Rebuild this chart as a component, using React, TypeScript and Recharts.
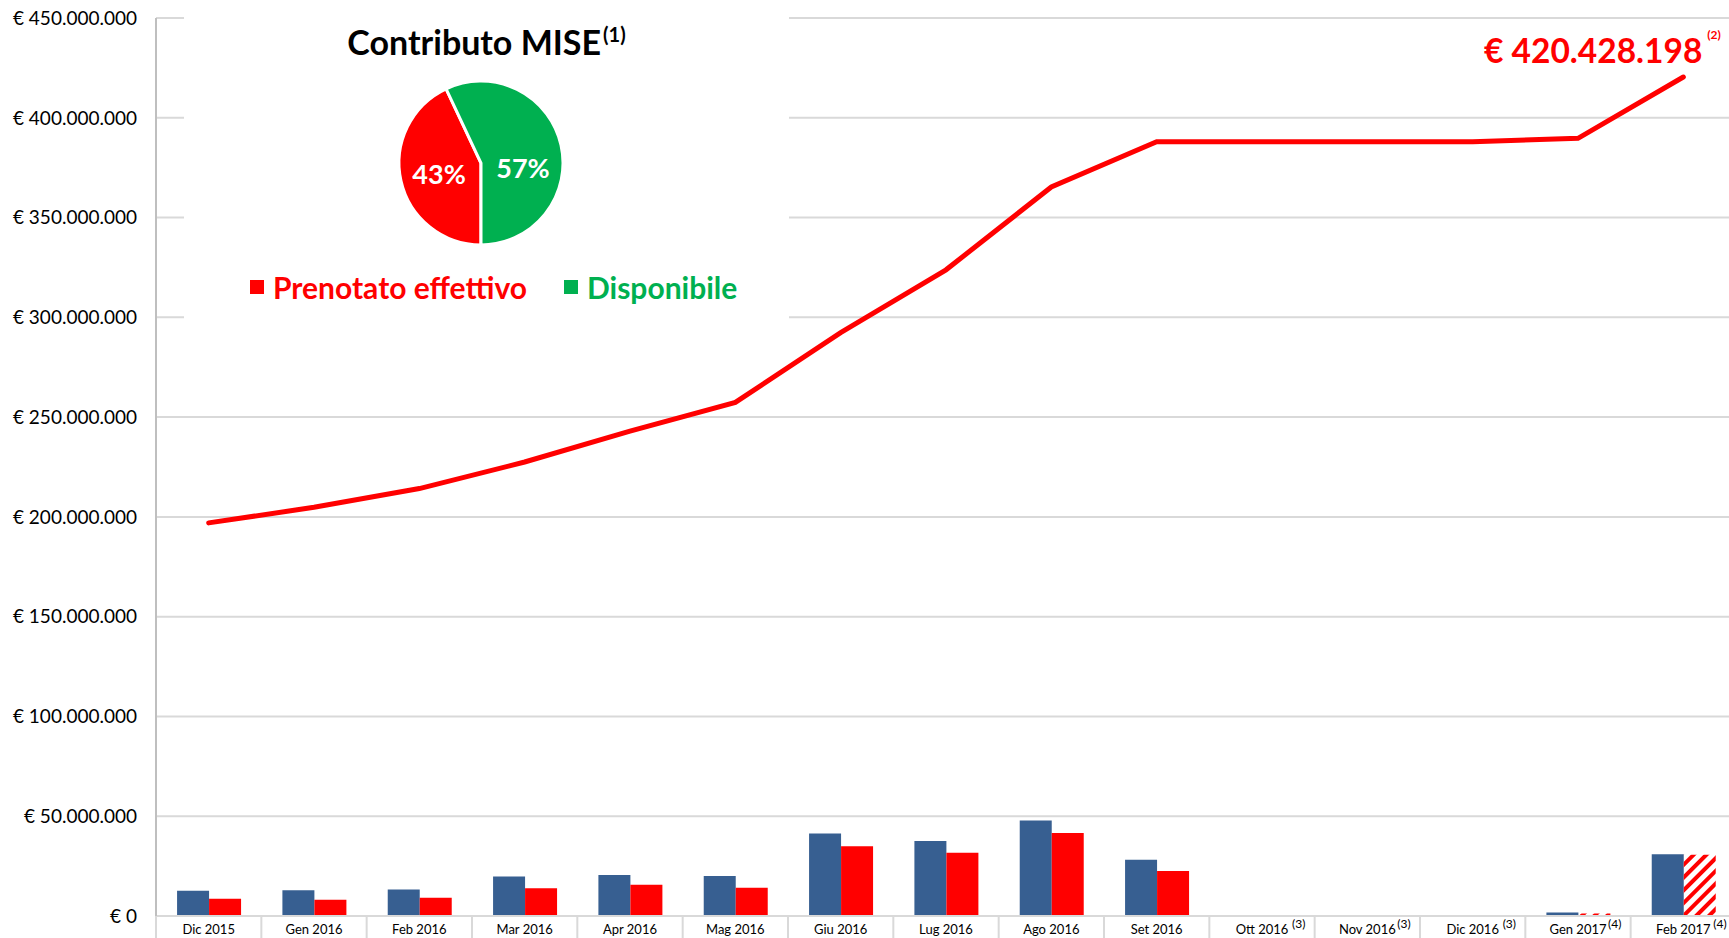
import { ComposedChart, Bar, Line, XAxis, YAxis, CartesianGrid, Cell, LabelList, PieChart, Pie } from 'recharts'

const categorie = ['Dic 2015', 'Gen 2016', 'Feb 2016', 'Mar 2016', 'Apr 2016', 'Mag 2016', 'Giu 2016', 'Lug 2016', 'Ago 2016', 'Set 2016', 'Ott 2016', 'Nov 2016', 'Dic 2016', 'Gen 2017', 'Feb 2017']
const note = ['', '', '', '', '', '', '', '', '', '', '(3)', '(3)', '(3)', '(4)', '(4)']

// barre mensili (blu e rosso), linea cumulata
const richiesto = [12600000, 12900000, 13300000, 19800000, 20500000, 20000000, 41400000, 37600000, 47800000, 28200000, 0, 0, 0, 1700000, 31000000]
const prenotato = [8600000, 8100000, 9100000, 13900000, 15600000, 14100000, 34900000, 31700000, 41600000, 22600000, 0, 0, 0, 1300000, 30700000]
const stimato = [false, false, false, false, false, false, false, false, false, false, false, false, false, true, true]
const cumulato = [197000000, 204800000, 214200000, 227500000, 243000000, 257400000, 292300000, 323800000, 365300000, 388000000, 388000000, 388000000, 388000000, 389700000, 420428198]

const yTicks = [0, 50000000, 100000000, 150000000, 200000000, 250000000, 300000000, 350000000, 400000000, 450000000]

const torta = [
  { name: 'Prenotato effettivo', value: 43, color: '#FF0000' },
  { name: 'Disponibile', value: 57, color: '#00B050' },
]

const data = categorie.map((c, i) => ({
  name: c,
  nota: note[i],
  richiesto: richiesto[i],
  prenotato: prenotato[i],
  cumulato: cumulato[i],
}))

const W = 1736
const H = 946
const Y_W = 156
const font = 'Lato, "Open Sans", sans-serif'

const euro = (v: number) => '€ ' + String(Math.round(v)).replace(/\B(?=(\d{3})+(?!\d))/g, '.')

const bw = (W - Y_W) / categorie.length

function CategoryTick(props: any) {
  const { x, y, payload, index } = props
  const nota = note[index]
  return (
    <g>
      <line x1={x - bw / 2} x2={x - bw / 2} y1={y} y2={y + 40} stroke="#d9d9d9" strokeWidth={2} />
      {index === categorie.length - 1 && (
        <line x1={x + bw / 2} x2={x + bw / 2} y1={y} y2={y + 40} stroke="#d9d9d9" strokeWidth={2} />
      )}
      <text x={x} y={y + 18} textAnchor="middle" fontSize={13} fill="#000" fontFamily={font}>
        {payload.value}
      </text>
      {nota && (
        <text x={x + 30} y={y + 12} fontSize={12} fill="#000" fontFamily={font}>
          {nota}
        </text>
      )}
    </g>
  )
}

function LastLabel(props: any) {
  const { x, y, index, value } = props
  if (index !== cumulato.length - 1) return null
  return (
    <g fontFamily={font} fontWeight={700} fill="#FF0000">
      <text x={x + 19} y={y - 14} textAnchor="end" fontSize={33.5}>{euro(value)}</text>
      <text x={x + 24} y={y - 38} fontSize={12}>(2)</text>
    </g>
  )
}

function PieLabel(props: any) {
  const { cx, cy, midAngle, index, value } = props
  const r = 43
  const rad = (Math.PI / 180) * midAngle
  const x = cx + r * Math.cos(rad)
  const y = cy - r * Math.sin(rad) + (index === 0 ? 1 : 14)
  return (
    <text x={x} y={y} textAnchor="middle" dominantBaseline="central" fill="#fff" fontSize={27} fontWeight={700} fontFamily={font}>
      {value}%
    </text>
  )
}

export default function App() {
  return (
    <div style={{ position: 'absolute', left: 0, top: 0, width: 1729, height: 938, overflow: 'hidden', background: '#fff', fontFamily: font }}>
      <svg width={0} height={0} style={{ position: 'absolute' }}>
        <defs>
          <pattern id="hatch" patternUnits="userSpaceOnUse" width={9} height={9} patternTransform="rotate(45)">
            <rect x={0} y={0} width={4} height={9} fill="#FF0000" />
          </pattern>
        </defs>
      </svg>
      <ComposedChart width={W} height={H} data={data} margin={{ top: 18, right: 0, left: 0, bottom: 0 }} barCategoryGap="20%" barGap={0}>
        <CartesianGrid horizontal vertical={false} stroke="#d9d9d9" strokeWidth={2} />
        <XAxis dataKey="name" height={30} tickLine={false} tickSize={0} tickMargin={0} interval={0} axisLine={{ stroke: '#d9d9d9', strokeWidth: 2 }} tick={<CategoryTick />} />
        <YAxis
          width={Y_W}
          domain={[0, 450000000]}
          ticks={yTicks}
          tickFormatter={euro}
          tickLine={false}
          tickSize={8}
          tickMargin={11}
          axisLine={{ stroke: '#bfbfbf', strokeWidth: 2 }}
          tick={{ fill: '#000', fontSize: 19, fontFamily: font }}
        />
        <Bar dataKey="richiesto" fill="#375F91" isAnimationActive={false} />
        <Bar dataKey="prenotato" fill="#FF0000" isAnimationActive={false}>
          {data.map((d, i) => (
            <Cell key={d.name} fill={stimato[i] ? 'url(#hatch)' : '#FF0000'} />
          ))}
        </Bar>
        <Line dataKey="cumulato" stroke="#FF0000" strokeWidth={5} dot={false} strokeLinecap="round" isAnimationActive={false}>
          <LabelList dataKey="cumulato" content={<LastLabel />} />
        </Line>
      </ComposedChart>

      <div style={{ position: 'absolute', left: 184, top: 0, width: 605, height: 330, background: '#fff' }}>
        <div style={{ position: 'absolute', left: 0, top: 23, width: 605, textAlign: 'center', fontSize: 34, lineHeight: '38px', fontWeight: 700, color: '#000' }}>
          Contributo MISE<sup style={{ fontSize: 20, verticalAlign: 'baseline', position: 'relative', top: -13, marginLeft: 2 }}>(1)</sup>
        </div>
        <div style={{ position: 'absolute', left: 196.5, top: 62.5 }}>
          <PieChart width={200} height={200} margin={{ top: 0, right: 0, bottom: 0, left: 0 }}>
            <Pie
              data={torta}
              dataKey="value"
              nameKey="name"
              cx="50%"
              cy="50%"
              outerRadius={82}
              startAngle={-90}
              endAngle={-450}
              stroke="#fff"
              strokeWidth={3}
              label={<PieLabel />}
              labelLine={false}
              isAnimationActive={false}
            >
              {torta.map((t) => (
                <Cell key={t.name} fill={t.color} />
              ))}
            </Pie>
          </PieChart>
        </div>
        {torta.map((t, i) => (
          <div key={t.name} style={{ position: 'absolute', left: i === 0 ? 66 : 380, top: 269, display: 'flex', alignItems: 'center', fontSize: 30, lineHeight: '36px', fontWeight: 700, color: t.color }}>
            <span style={{ display: 'inline-block', width: 14, height: 14, background: t.color, marginRight: 9 }} />
            {t.name}
          </div>
        ))}
      </div>
    </div>
  )
}
